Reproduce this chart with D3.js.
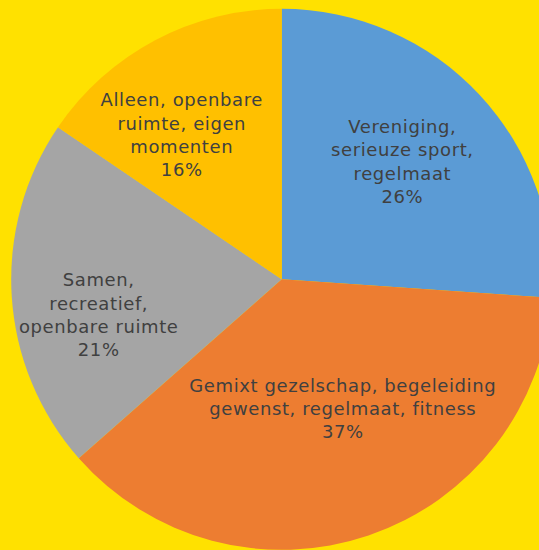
<!DOCTYPE html>
<html>
<head>
<meta charset="utf-8">
<script src="https://cdn.jsdelivr.net/npm/d3@7"></script>
<style>
  body { margin: 0; background: #FFE100; }
</style>
</head>
<body>
<div class="pie-chart"></div>
<script>
// Data
const categories = [
  ["Vereniging,", "serieuze sport,", "regelmaat"],
  ["Gemixt gezelschap, begeleiding", "gewenst, regelmaat, fitness"],
  ["Samen,", "recreatief,", "openbare ruimte"],
  ["Alleen, openbare", "ruimte, eigen", "momenten"]
];
const values = [26.1, 37.4, 21.0, 15.5];
const colors = ["#5B9BD5", "#ED7D31", "#A5A5A5", "#FFC000"];

// Layout
const width = 539;
const height = 550;
const cx = 281.7, cy = 279.3, radius = 270.5;
const lineHeight = 23.3;
// label tweaks relative to the centroid
const labelNudge = [[2, -7], [9, -24.5], [-21, 25.5], [-24, -1]];

const svg = d3.select(".pie-chart")
  .append("svg")
  .attr("width", width)
  .attr("height", height);

svg.append("rect")
  .attr("width", width)
  .attr("height", height)
  .attr("fill", "#FFE100");

const pie = d3.pie().sort(null).value(d => d);
const arcs = pie(values);

const arc = d3.arc().innerRadius(0).outerRadius(radius);
const labelArc = d3.arc().innerRadius(radius * 0.6).outerRadius(radius * 0.6);

const g = svg.append("g").attr("transform", `translate(${cx}, ${cy})`);

g.selectAll("path")
  .data(arcs)
  .enter()
  .append("path")
    .attr("d", arc)
    .attr("fill", (d, i) => colors[i]);

const labels = g.selectAll("text")
  .data(arcs)
  .enter()
  .append("text")
    .attr("text-anchor", "middle")
    .attr("font-family", "DejaVu Sans, sans-serif")
    .attr("font-size", 18)
    .attr("letter-spacing", 0.6)
    .attr("fill", "#404040")
    .attr("transform", (d, i) => {
      const c = labelArc.centroid(d);
      return `translate(${c[0] + labelNudge[i][0]}, ${c[1] + labelNudge[i][1]})`;
    });

labels.each(function(d, i) {
  const lines = categories[i].concat([Math.round(d.data) + "%"]);
  const top = -(lines.length - 1) * lineHeight / 2;
  d3.select(this).selectAll("tspan")
    .data(lines)
    .enter()
    .append("tspan")
      .attr("x", 0)
      .attr("y", (l, j) => top + j * lineHeight)
      .attr("dy", "0.35em")
      .text(l => l);
});
</script>
</body>
</html>
